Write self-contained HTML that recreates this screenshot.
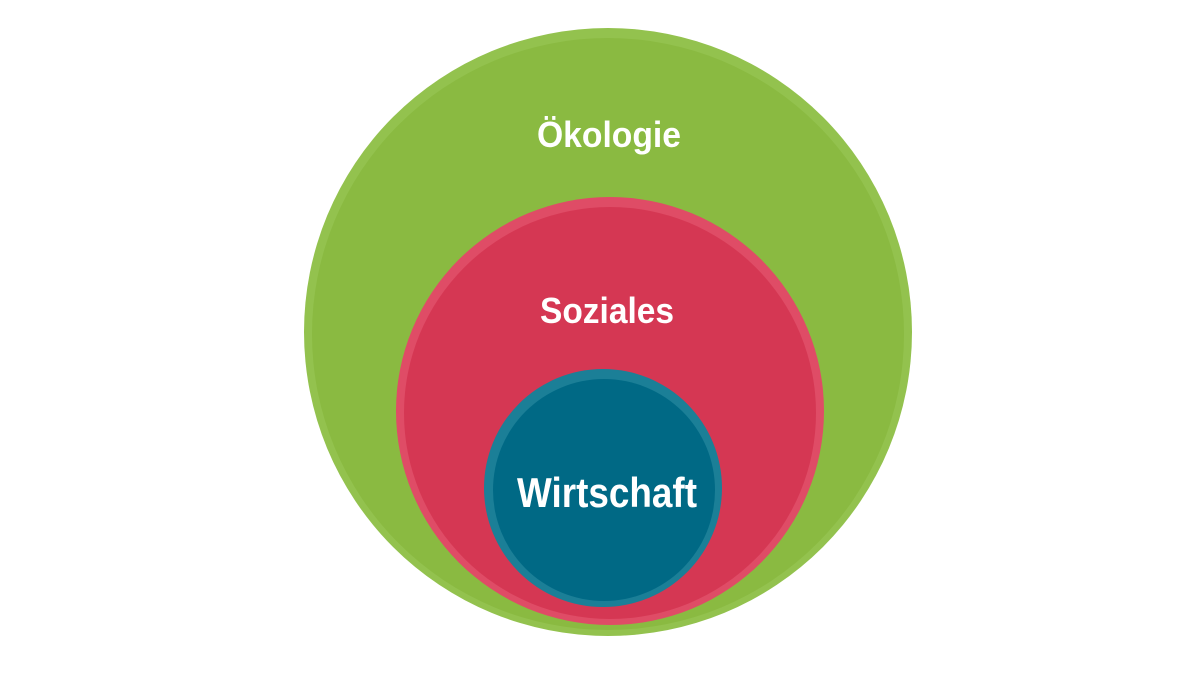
<!DOCTYPE html>
<html><head><meta charset="utf-8"><style>
html,body{margin:0;padding:0;background:#fff;}
</style></head><body>
<svg width="1200" height="677" viewBox="0 0 1200 677" xmlns="http://www.w3.org/2000/svg">
<circle cx="608" cy="332" r="304" fill="#93c24e"/>
<circle cx="608" cy="334" r="296" fill="#8aba41"/>
<circle cx="610" cy="411" r="214" fill="#df4c66"/>
<circle cx="610" cy="413" r="206" fill="#d53753"/>
<circle cx="603" cy="488" r="119" fill="#1b7f97"/>
<circle cx="604" cy="490" r="111" fill="#006985"/>
<g font-family="Liberation Sans, sans-serif" font-weight="bold" fill="#fff" text-anchor="middle">
<text x="609" y="147" font-size="36" textLength="144" lengthAdjust="spacingAndGlyphs">Ökologie</text>
<text x="607" y="323" font-size="36" textLength="134" lengthAdjust="spacingAndGlyphs">Soziales</text>
<text x="607" y="507" font-size="42" textLength="180" lengthAdjust="spacingAndGlyphs">Wirtschaft</text>
</g>
</svg>
</body></html>
